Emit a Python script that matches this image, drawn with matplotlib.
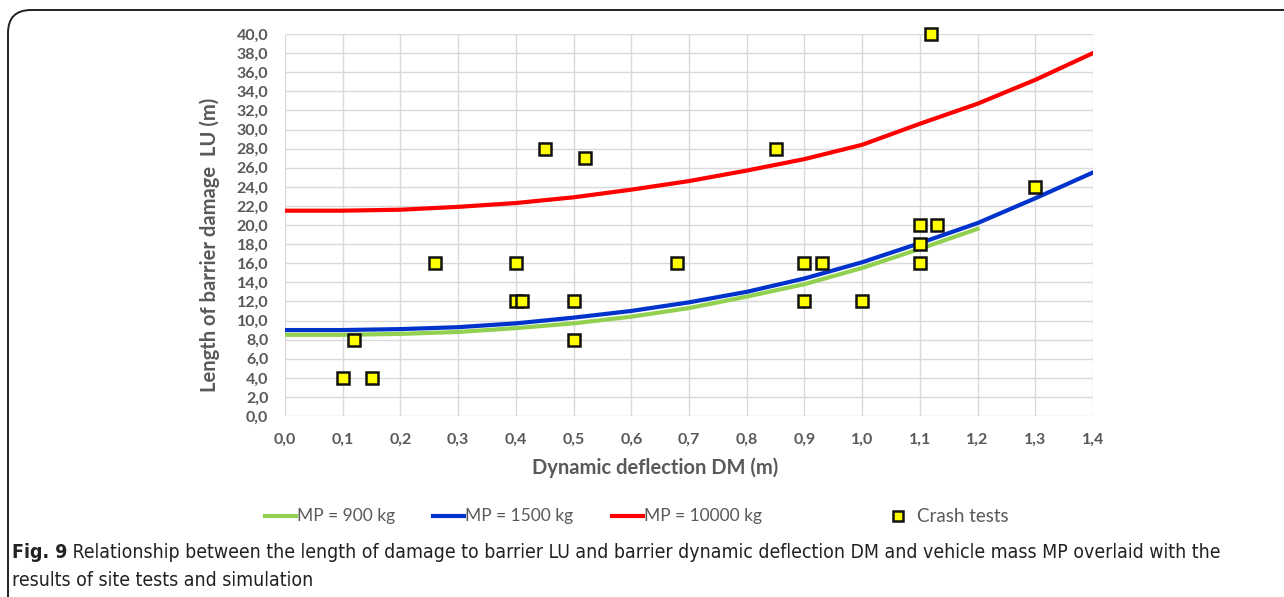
import matplotlib
matplotlib.use("Agg")
import matplotlib.pyplot as plt
from matplotlib.patches import FancyBboxPatch
from matplotlib.lines import Line2D

# ---- data ----
curve_x_900 = [0.0, 0.1, 0.2, 0.3, 0.4, 0.5, 0.6, 0.7, 0.8, 0.9, 1.0, 1.1, 1.2]
lu_900 = [8.5, 8.5, 8.6, 8.8, 9.2, 9.7, 10.4, 11.3, 12.5, 13.8, 15.5, 17.5, 19.6]

curve_x = [0.0, 0.1, 0.2, 0.3, 0.4, 0.5, 0.6, 0.7, 0.8, 0.9, 1.0, 1.1, 1.2, 1.3, 1.4]
lu_1500 = [9.0, 9.0, 9.1, 9.3, 9.7, 10.3, 11.0, 11.9, 13.0, 14.4, 16.1, 18.1, 20.2, 22.8, 25.5]
lu_10000 = [21.5, 21.5, 21.6, 21.9, 22.3, 22.9, 23.7, 24.6, 25.7, 26.9, 28.4, 30.6, 32.7, 35.2, 38.0]

test_dm = [0.10, 0.15, 0.12, 0.26, 0.40, 0.40, 0.41, 0.45, 0.52, 0.50, 0.50, 0.68,
           0.85, 0.90, 0.93, 0.90, 1.00, 1.10, 1.13, 1.10, 1.10, 1.12, 1.30]
test_lu = [4, 4, 8, 16, 16, 12, 12, 28, 27, 12, 8, 16,
           28, 16, 16, 12, 12, 20, 20, 18, 16, 40, 24]

series_labels = ["MP = 900 kg", "MP = 1500 kg", "MP = 10000 kg", "Crash tests"]
x_ticks = [0.0, 0.1, 0.2, 0.3, 0.4, 0.5, 0.6, 0.7, 0.8, 0.9, 1.0, 1.1, 1.2, 1.3, 1.4]
y_ticks = list(range(0, 41, 2))

x_label = "Dynamic deflection DM (m)"
y_label = "Length of barrier damage  LU (m)"
caption_bold = "Fig. 9"
caption_rest = (" Relationship between the length of damage to barrier LU and barrier "
                "dynamic deflection DM and vehicle mass MP overlaid with the")
caption_line2 = "results of site tests and simulation"

# ---- styling ----
GRAY = "#595959"
GRID = "#d9d9d9"
C_GREEN = "#92D050"
C_BLUE = "#0033CC"
C_RED = "#FF0000"
C_MARK = "#FFFF00"
FONT = "Lato"

W, H = 1284, 597
fig = plt.figure(figsize=(W / 100, H / 100), dpi=100)


def fx(px):
    return px / W


def fy(py):
    return 1 - py / H


# rounded frame (extends past right/bottom edges)
frame = FancyBboxPatch((fx(8), fy(H + 40)), fx(W + 40 - 8), (H + 40 - 10) / H,
                       boxstyle="round,pad=0,rounding_size=0.018",
                       transform=fig.transFigure, facecolor="none",
                       edgecolor="#222222", linewidth=1.4, clip_on=False,
                       mutation_aspect=W / H)
fig.patches.append(frame)

ax = fig.add_axes([fx(285), fy(416), (1093 - 285) / W, (416 - 34) / H])

ax.plot(curve_x_900, lu_900, color=C_GREEN, lw=3.0, zorder=2)
ax.plot(curve_x, lu_1500, color=C_BLUE, lw=3.0, zorder=3)
ax.plot(curve_x, lu_10000, color=C_RED, lw=3.0, zorder=3)
ax.plot(test_dm, test_lu, linestyle="none", marker="s", markersize=8.5,
        markerfacecolor=C_MARK, markeredgecolor="#111111", markeredgewidth=1.8,
        zorder=5, clip_on=False)

ax.set_xlim(0, 1.4)
ax.set_ylim(0, 40)
ax.set_xticks(x_ticks)
ax.set_yticks(y_ticks)
ax.set_xticklabels([f"{v:.1f}".replace(".", ",") for v in x_ticks])
ax.set_yticklabels([f"{v:.1f}".replace(".", ",") for v in y_ticks])
ax.grid(True, color=GRID, lw=1.0)
ax.set_axisbelow(True)
for s in ax.spines.values():
    s.set_visible(False)
ax.tick_params(length=0, labelcolor=GRAY, labelsize=11.5)
ax.tick_params(axis="y", pad=12)
ax.tick_params(axis="x", pad=12)
for lab in ax.get_xticklabels() + ax.get_yticklabels():
    lab.set_fontfamily(FONT)
    lab.set_fontweight("bold")

fig.text(fx(655), fy(468), x_label, ha="center", va="center",
         fontsize=14.5, fontweight="bold", color=GRAY, family=FONT)
fig.text(fx(210), fy(245), y_label, ha="center", va="center", rotation=90,
         fontsize=14.5, fontweight="bold", color=GRAY, family=FONT)

# legend, drawn manually to match Excel's spacing
leg_y = fy(516)
line_starts = [265, 433, 612]
colors = [C_GREEN, C_BLUE, C_RED]
for x0, c, lab in zip(line_starts, colors, series_labels[:3]):
    fig.add_artist(Line2D([fx(x0), fx(x0 + 31)], [leg_y, leg_y], color=c, lw=3,
                          transform=fig.transFigure))
    fig.text(fx(x0 + 32), leg_y, lab, ha="left", va="center", fontsize=12.5,
             color=GRAY, family=FONT)
fig.add_artist(Line2D([fx(898)], [leg_y], linestyle="none", marker="s", markersize=7.5,
                      markerfacecolor=C_MARK, markeredgecolor="#111111",
                      markeredgewidth=1.8, transform=fig.transFigure))
fig.text(fx(917), leg_y, series_labels[3], ha="left", va="center", fontsize=13.5,
         color=GRAY, family=FONT)

# caption, scaled so that the first line ends where the reference does
cap_font = ["DejaVu Sans"]
cap_size = 13.0
t1 = fig.text(fx(12), fy(552), caption_bold, ha="left", va="center",
              fontsize=cap_size, fontweight="bold", color="#222222",
              family=cap_font, fontstretch="condensed")
t2 = fig.text(0, fy(552), caption_rest, ha="left", va="center",
              fontsize=cap_size, color="#222222", family=cap_font,
              fontstretch="condensed")
t3 = fig.text(fx(12), fy(581), caption_line2, ha="left", va="center",
              fontsize=cap_size, color="#222222", family=cap_font,
              fontstretch="condensed")
fig.canvas.draw()
r = fig.canvas.get_renderer()
total = t1.get_window_extent(r).width + t2.get_window_extent(r).width
scale = (1222 - 12) / total
for t in (t1, t2, t3):
    t.set_fontsize(cap_size * scale)
fig.canvas.draw()
t2.set_x(t1.get_window_extent(r).x1 / W)

fig.savefig("out.png", dpi=100)
